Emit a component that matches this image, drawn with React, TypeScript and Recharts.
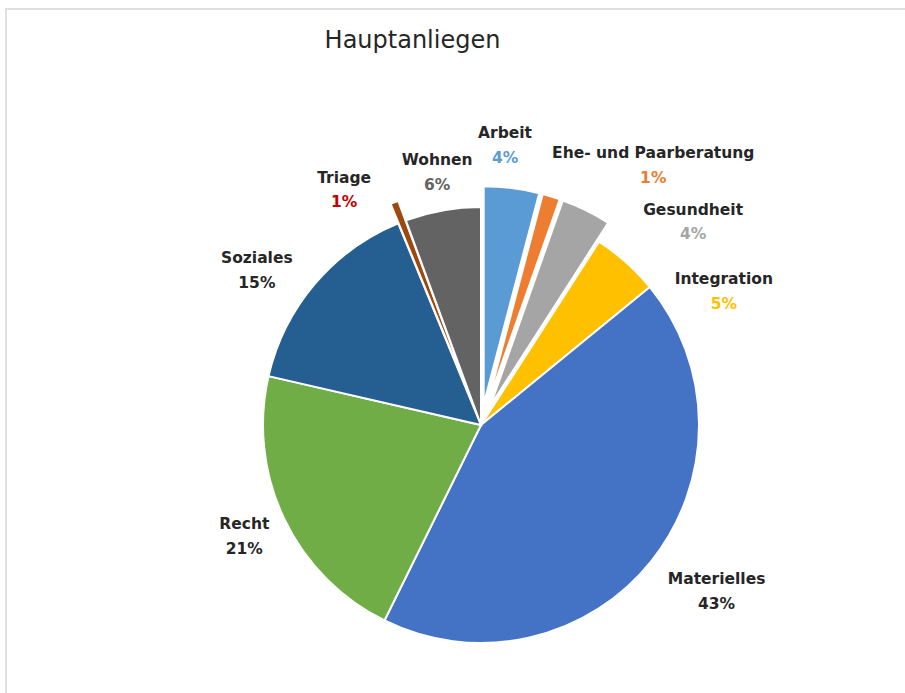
import { PieChart, Pie, Cell, Sector } from "recharts";

// Hauptanliegen – share per category (in %)
const categories = [
  "Arbeit",
  "Ehe- und Paarberatung",
  "Gesundheit",
  "Integration",
  "Materielles",
  "Recht",
  "Soziales",
  "Triage",
  "Wohnen",
];
const shares = [4.1, 1.3, 3.7, 5.0, 43.2, 21.3, 15.2, 0.6, 5.6];
const explodedSlices = ["Arbeit", "Ehe- und Paarberatung", "Gesundheit", "Triage"];

const sliceColors = [
  "#5B9BD5",
  "#ED7D31",
  "#A5A5A5",
  "#FFC000",
  "#4472C4",
  "#70AD47",
  "#255E91",
  "#9E480E",
  "#636363",
];
const percentColors = [
  "#5B9BD5",
  "#ED7D31",
  "#A5A5A5",
  "#FFC000",
  "#262626",
  "#262626",
  "#262626",
  "#C00000",
  "#636363",
];
// labels were dragged by hand in the original, so nudge them off the default spot
const labelNudge: [number, number][] = [
  [-11, -9],
  [92, 1],
  [92, 42],
  [61, 70],
  [22, -4],
  [10, -6],
  [-16, 22],
  [-38, 19],
  [4, 16],
];

const data = categories.map((name, i) => ({ name, value: shares[i] }));
const total = shares.reduce((a, b) => a + b, 0);

const RADIAN = Math.PI / 180;
const EXPLODE = 21;

function renderSlice(props: any) {
  const name = props.name ?? props.payload?.name;
  const d = explodedSlices.includes(name) ? EXPLODE : 0;
  const cx = props.cx + d * Math.cos(-props.midAngle * RADIAN);
  const cy = props.cy + d * Math.sin(-props.midAngle * RADIAN);
  return <Sector {...props} cx={cx} cy={cy} />;
}

function renderLabel(props: any) {
  const { cx, cy, midAngle, outerRadius, index, value } = props;
  const r = outerRadius + 55;
  const x = cx + r * Math.cos(-midAngle * RADIAN) + labelNudge[index][0];
  const y = cy + r * Math.sin(-midAngle * RADIAN) + labelNudge[index][1];
  const pct = Math.round((value / total) * 100 + 1e-9);
  return (
    <g>
      <text
        x={x}
        y={y - 12}
        textAnchor="middle"
        dominantBaseline="central"
        fontFamily="DejaVu Sans"
        fontWeight="bold"
        fontSize={15.5}
        fill="#262626"
      >
        {categories[index]}
      </text>
      <text
        x={x}
        y={y + 12.5}
        textAnchor="middle"
        dominantBaseline="central"
        fontFamily="DejaVu Sans"
        fontWeight="bold"
        fontSize={15.5}
        fill={percentColors[index]}
      >
        {pct}%
      </text>
    </g>
  );
}

export default function App() {
  return (
    <div style={{ position: "absolute", left: 0, top: 0, width: 905, height: 693, background: "#fff", overflow: "hidden" }}>
      <div
        style={{
          position: "absolute",
          left: 5,
          top: 8,
          width: 920,
          height: 700,
          borderTop: "2px solid #e0e0e0",
          borderLeft: "2px solid #e0e0e0",
        }}
      />
      <div
        style={{
          position: "absolute",
          left: 0,
          top: 23,
          width: 825,
          textAlign: "center",
          fontFamily: "DejaVu Sans",
          fontSize: 24,
          lineHeight: "34px",
          color: "#262626",
        }}
      >
        Hauptanliegen
      </div>
      <div style={{ position: "absolute", left: 0, top: 0 }}>
        <PieChart width={905} height={693} margin={{ top: 0, right: 0, bottom: 0, left: 0 }}>
          <Pie
            data={data}
            dataKey="value"
            nameKey="name"
            cx={481}
            cy={425}
            outerRadius={218}
            startAngle={90}
            endAngle={-270}
            stroke="#ffffff"
            strokeWidth={2}
            label={renderLabel}
            labelLine={false}
            shape={renderSlice}
            isAnimationActive={false}
          >
            {data.map((d, i) => (
              <Cell key={d.name} fill={sliceColors[i]} />
            ))}
          </Pie>
        </PieChart>
      </div>
    </div>
  );
}
